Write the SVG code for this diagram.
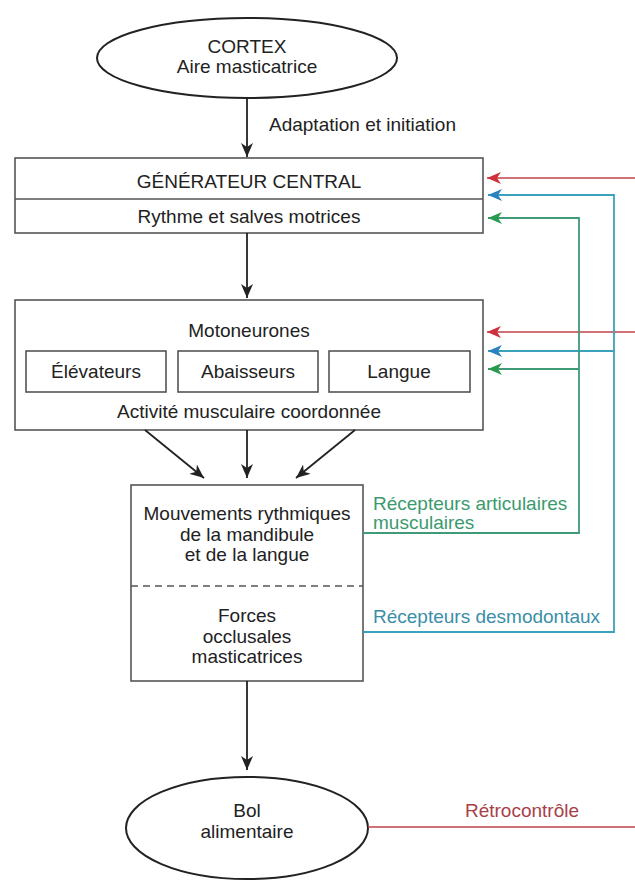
<svg xmlns="http://www.w3.org/2000/svg" width="635" height="880" viewBox="0 0 635 880">
<style>
  text { font-family: "Liberation Sans", Arial, sans-serif; font-size: 19px; fill: #222; text-anchor: middle; }
  .box { fill: #fff; stroke: #555; stroke-width: 1.6; }
  .ell { fill: #fff; stroke: #222; stroke-width: 2; }
  .blk { fill: none; stroke: #222; stroke-width: 1.8; }
  .red { fill: none; stroke: #c0404a; stroke-width: 1.6; }
  .blue { fill: none; stroke: #3aa2bd; stroke-width: 1.8; }
  .green { fill: none; stroke: #3f9a78; stroke-width: 1.8; }
  .lg { fill: #3a9a6e; text-anchor: start; }
  .lb { fill: #3a8ea8; text-anchor: start; }
  .lr { fill: #a84048; }
</style>
<defs>
  <marker id="ab" viewBox="0 0 14 12" refX="14" refY="6" markerWidth="14" markerHeight="12" markerUnits="userSpaceOnUse" orient="auto"><path d="M0,0 L14,6 L0,12 L4,6 z" fill="#222"/></marker>
  <marker id="ar" viewBox="0 0 14 12" refX="14" refY="6" markerWidth="14" markerHeight="12" markerUnits="userSpaceOnUse" orient="auto"><path d="M0,0 L14,6 L0,12 L4,6 z" fill="#d0303c"/></marker>
  <marker id="au" viewBox="0 0 14 12" refX="14" refY="6" markerWidth="14" markerHeight="12" markerUnits="userSpaceOnUse" orient="auto"><path d="M0,0 L14,6 L0,12 L4,6 z" fill="#2a82c0"/></marker>
  <marker id="ag" viewBox="0 0 14 12" refX="14" refY="6" markerWidth="14" markerHeight="12" markerUnits="userSpaceOnUse" orient="auto"><path d="M0,0 L14,6 L0,12 L4,6 z" fill="#2a9a50"/></marker>
</defs>

<g id="cortex">
  <ellipse class="ell" cx="247" cy="58" rx="150" ry="40"/>
  <text x="247" y="53">CORTEX</text>
  <text x="247" y="73">Aire masticatrice</text>
</g>

<g id="generateur">
  <rect class="box" x="15" y="158" width="468" height="75"/>
  <line x1="15" y1="199" x2="483" y2="199" stroke="#555" stroke-width="1.6"/>
  <text x="249" y="188">GÉNÉRATEUR CENTRAL</text>
  <text x="249" y="223">Rythme et salves motrices</text>
</g>

<g id="motoneurones">
  <rect class="box" x="15" y="300" width="468" height="130"/>
  <text x="249" y="337">Motoneurones</text>
  <g id="elevateurs">
    <rect class="box" x="26" y="351" width="140" height="41"/>
    <text x="96" y="378">Élévateurs</text>
  </g>
  <g id="abaisseurs">
    <rect class="box" x="178" y="351" width="140" height="41"/>
    <text x="248" y="378">Abaisseurs</text>
  </g>
  <g id="langue">
    <rect class="box" x="329" y="351" width="141" height="41"/>
    <text x="399" y="378">Langue</text>
  </g>
  <text x="249" y="418">Activité musculaire coordonnée</text>
</g>

<g id="mouvements">
  <rect class="box" x="131" y="485" width="232" height="196"/>
  <line x1="131" y1="586" x2="363" y2="586" stroke="#555" stroke-width="1.6" stroke-dasharray="7 5"/>
  <text x="247" y="520">Mouvements rythmiques</text>
  <text x="247" y="541">de la mandibule</text>
  <text x="247" y="561">et de la langue</text>
  <text x="247" y="622">Forces</text>
  <text x="247" y="643">occlusales</text>
  <text x="247" y="663">masticatrices</text>
</g>

<g id="bol">
  <ellipse class="ell" cx="247" cy="828" rx="121" ry="51" stroke-width="1.6"/>
  <text x="247" y="817">Bol</text>
  <text x="247" y="838">alimentaire</text>
</g>

<g id="connectors">
  <line class="blk" x1="247" y1="98" x2="247" y2="157" marker-end="url(#ab)"/>
  <text x="269" y="131" style="text-anchor:start">Adaptation et initiation</text>
  <line class="blk" x1="247" y1="233" x2="247" y2="298" marker-end="url(#ab)"/>
  <line class="blk" x1="145" y1="430" x2="204" y2="478" marker-end="url(#ab)"/>
  <line class="blk" x1="247" y1="430" x2="247" y2="478" marker-end="url(#ab)"/>
  <line class="blk" x1="355" y1="430" x2="296" y2="478" marker-end="url(#ab)"/>
  <line class="blk" x1="247" y1="681" x2="247" y2="770" marker-end="url(#ab)"/>

  <line class="red" x1="635" y1="178" x2="487" y2="178" marker-end="url(#ar)"/>
  <line class="red" x1="635" y1="332" x2="487" y2="332" marker-end="url(#ar)"/>
  <line class="red" x1="368" y1="827" x2="635" y2="827"/>
  <text class="lr" x="522" y="817">Rétrocontrôle</text>

  <path class="blue" d="M363,632 H614 V195 H488" marker-end="url(#au)"/>
  <path class="blue" d="M614,351 H488" marker-end="url(#au)"/>
  <text class="lb" x="373" y="623">Récepteurs desmodontaux</text>

  <path class="green" d="M363,533 H579 V218 H488" marker-end="url(#ag)"/>
  <path class="green" d="M579,369 H488" marker-end="url(#ag)"/>
  <text class="lg" x="373" y="510">Récepteurs articulaires</text>
  <text class="lg" x="373" y="529">musculaires</text>
</g>
</svg>
